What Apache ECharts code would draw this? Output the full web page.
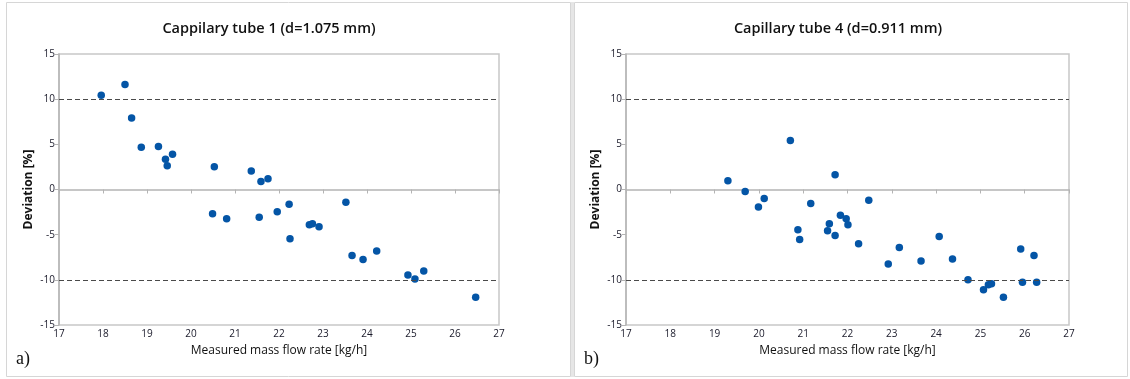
<!DOCTYPE html>
<html>
<head>
<meta charset="utf-8">
<script src="https://cdn.jsdelivr.net/npm/echarts@6/dist/echarts.min.js"></script>
<style>
html,body{margin:0;padding:0;background:#fff;}
#chart{width:1130px;height:379px;}
</style>
</head>
<body>
<div id="chart"></div>
<script>
var titles = ["Cappilary tube 1 (d=1.075 mm)", "Capillary tube 4 (d=0.911 mm)"];
var panelLabels = ["a)", "b)"];
var xAxisName = "Measured mass flow rate [kg/h]";
var yAxisName = "Deviation [%]";
var limitLines = [10, -10];

var tube1X = [17.96, 18.50, 18.65, 18.87, 19.26, 19.42, 19.46, 19.58, 20.53, 20.49, 20.81, 21.37, 21.59, 21.75, 21.55, 21.96, 22.23, 22.25, 22.69, 22.76, 22.91, 23.52, 23.66, 23.91, 24.22, 24.93, 25.09, 25.29, 26.47];
var tube1Y = [10.43, 11.61, 7.92, 4.68, 4.75, 3.35, 2.62, 3.91, 2.51, -2.69, -3.24, 2.06, 0.88, 1.18, -3.06, -2.47, -1.62, -5.46, -3.91, -3.80, -4.13, -1.40, -7.30, -7.74, -6.82, -9.47, -9.92, -9.03, -11.94];

var tube4X = [19.30, 19.69, 19.99, 20.12, 20.71, 20.88, 20.92, 21.17, 21.55, 21.59, 21.72, 21.72, 21.84, 21.97, 22.01, 22.25, 22.48, 22.92, 23.17, 23.66, 24.07, 24.37, 24.72, 25.07, 25.18, 25.25, 25.52, 25.91, 25.95, 26.21, 26.27];
var tube4Y = [0.96, -0.22, -1.95, -1.00, 5.42, -4.46, -5.53, -1.55, -4.57, -3.80, 1.62, -5.09, -2.84, -3.24, -3.91, -6.01, -1.18, -8.26, -6.41, -7.92, -5.20, -7.70, -9.99, -11.09, -10.54, -10.43, -11.94, -6.60, -10.28, -7.30, -10.28];

function pairs(xs, ys){ return xs.map(function(x,i){ return [x, ys[i]]; }); }

var chart = echarts.init(document.getElementById('chart'), null, {renderer:'canvas'});
var grids = [
  {left:59, top:54, width:440, height:271},
  {left:626, top:54, width:443, height:271}
];
var tickFont = {fontFamily:'Open Sans, sans-serif', fontSize:10, color:'#1a1a2a'};
function xAx(i){
  return {type:'value', gridIndex:i, min:17, max:27, interval:1,
    name:xAxisName, nameLocation:'middle', nameGap:20,
    nameTextStyle:{fontFamily:'Open Sans, sans-serif', fontSize:12, color:'#111'},
    axisLine:{show:true, lineStyle:{color:'#b4b4b4', width:1.5}},
    axisTick:{show:true, length:4, lineStyle:{color:'#b4b4b4'}},
    axisLabel:Object.assign({margin:4}, tickFont),
    splitLine:{show:false}};
}
function yAx(i){
  return {type:'value', gridIndex:i, min:-15, max:15, interval:5,
    name:yAxisName, nameLocation:'middle', nameGap:24,
    nameTextStyle:{fontFamily:'Open Sans, sans-serif', fontSize:12, fontWeight:'bold', color:'#111'},
    axisLine:{show:true, onZero:false, lineStyle:{color:'#b4b4b4', width:1.5}},
    axisTick:{show:true, length:4, lineStyle:{color:'#b4b4b4'}},
    axisLabel:Object.assign({margin:4}, tickFont),
    splitLine:{show:false}};
}
function scat(i, data){
  return {type:'scatter', xAxisIndex:i, yAxisIndex:i, data:data, symbolSize:7.5,
    itemStyle:{color:'#0455a6', opacity:1}, z:3,
    markLine:{silent:true, symbol:'none', label:{show:false},
      lineStyle:{type:[5,3], color:'#4a4a4a', width:1.2},
      data:limitLines.map(function(v){ return {yAxis:v}; })}};
}
chart.setOption({
  animation:false,
  backgroundColor:'#fff',
  title:[
    {text:titles[0], left:264, top:16, textAlign:'center', textStyle:{fontFamily:'Open Sans, sans-serif', fontSize:14.5, fontWeight:600, color:'#111'}},
    {text:titles[1], left:833, top:16, textAlign:'center', textStyle:{fontFamily:'Open Sans, sans-serif', fontSize:14.5, fontWeight:600, color:'#111'}}
  ],
  grid:grids.map(function(g){ return Object.assign({show:true, borderColor:'#c8c8c8', borderWidth:1.5, backgroundColor:'transparent'}, g); }),
  xAxis:[xAx(0), xAx(1)],
  yAxis:[yAx(0), yAx(1)],
  series:[scat(0, pairs(tube1X, tube1Y)), scat(1, pairs(tube4X, tube4Y))],
  graphic:[
    {type:'rect', shape:{x:6.5, y:2.5, width:564, height:374}, style:{fill:'none', stroke:'#d6d6d6', lineWidth:1}, z:-1},
    {type:'rect', shape:{x:571, y:2, width:3, height:375}, style:{fill:'#e6e6e6'}, z:-1},
    {type:'rect', shape:{x:574.5, y:2.5, width:553, height:374}, style:{fill:'none', stroke:'#d6d6d6', lineWidth:1}, z:-1},
    {type:'text', left:16, top:350, style:{text:panelLabels[0], font:'18px "Liberation Serif", serif', fill:'#111'}},
    {type:'text', left:584, top:350, style:{text:panelLabels[1], font:'18px "Liberation Serif", serif', fill:'#111'}}
  ]
});
</script>
</body>
</html>
